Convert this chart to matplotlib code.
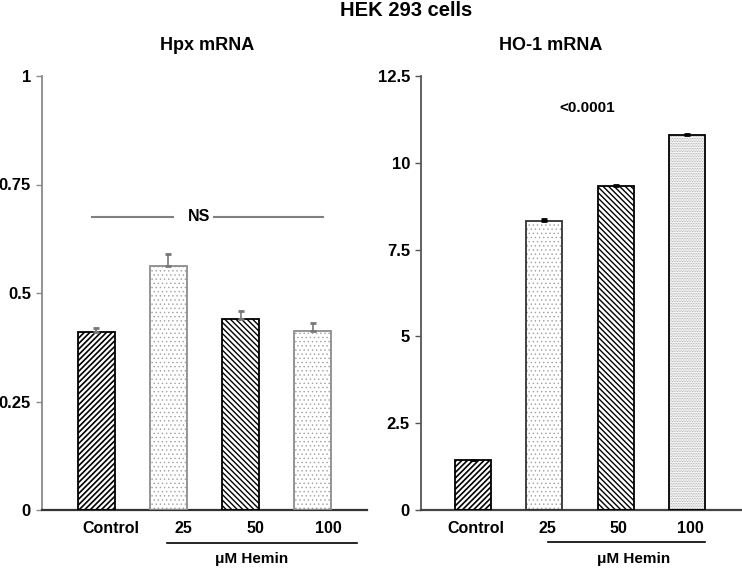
import numpy as np
import matplotlib
matplotlib.use('Agg')
import matplotlib.pyplot as plt
import matplotlib.transforms as mtransforms

plt.rcParams['font.family'] = ['Liberation Sans', 'DejaVu Sans']
plt.rcParams['font.weight'] = 'bold'

# data
groups = ['Control', '25', '50', '100']
hpx_mean = [0.411, 0.562, 0.439, 0.412]
hpx_err = [0.008, 0.027, 0.019, 0.018]
ho1_mean = [1.44, 8.33, 9.33, 10.79]
ho1_err = [0.0, 0.04, 0.04, 0.04]
ns_level = 0.676
pval_text = '<0.0001'

# styles for each bar: hatch, hatch colour, hatch linewidth, edge colour
left_styles = [('//////', 'black', 1.2, 'black'),
               ('....', '#a0a0a0', 0.5, '#8c8c8c'),
               ('\\\\\\\\\\\\', 'black', 1.0, 'black'),
               ('....', '#a0a0a0', 0.5, '#8c8c8c')]
right_styles = [('//////', 'black', 1.2, 'black'),
                ('....', '#a0a0a0', 0.5, '#333333'),
                ('\\\\\\\\\\\\', 'black', 1.0, 'black'),
                ('..........', '#9a9a9a', 0.5, 'black')]

fig = plt.figure(figsize=(7.42, 5.68), dpi=100)
W, H = 742, 568


def px_axes(x0, x1, y0, y1):
    return fig.add_axes([x0 / W, 1 - y1 / H, (x1 - x0) / W, (y1 - y0) / H])


def draw_bars(ax, means, errs, styles, width, errcolor):
    x = np.arange(len(means))
    for i, (h, hc, hlw, ec) in enumerate(styles):
        plt.rcParams['hatch.linewidth'] = hlw
        b = ax.bar(x[i], means[i], width=width, color='white', edgecolor=hc,
                   hatch=h, linewidth=0, zorder=2)
        for p in b:
            if hasattr(p, 'set_hatch_linewidth'):
                p.set_hatch_linewidth(hlw)
        ax.bar(x[i], means[i], width=width, fill=False, edgecolor=ec,
               linewidth=1.3, zorder=3)
    e = np.array(errs)
    ax.errorbar(x, means, yerr=[np.zeros_like(e), e], fmt='none',
                ecolor=errcolor, elinewidth=1.2, capsize=2, capthick=2, zorder=4)
    return x


def style_axes(ax, lcol, bcol):
    for s in ['top', 'right']:
        ax.spines[s].set_visible(False)
    ax.spines['left'].set_color(lcol)
    ax.spines['left'].set_linewidth(1.3)
    ax.spines['bottom'].set_color(bcol)
    ax.spines['bottom'].set_linewidth(1.6)
    ax.tick_params(axis='y', direction='out', length=4, width=1, color=lcol,
                   labelsize=12, pad=4)
    ax.tick_params(axis='x', length=0, labelsize=11.5, pad=8)
    for lab in ax.get_xticklabels() + ax.get_yticklabels():
        lab.set_fontweight('bold')


# left panel
ax1 = px_axes(42, 367, 76, 510)
x1 = draw_bars(ax1, hpx_mean, hpx_err, left_styles, 0.51, '#777777')
ax1.set_xlim(-0.75, 3.75)
ax1.set_ylim(0, 1)
ax1.set_yticks([0, 0.25, 0.5, 0.75, 1])
ax1.set_yticklabels(['0', '0.25', '0.5', '0.75', '1'])
# labels in the left panel sit a little right of the bar centres
ax1.set_xticks(x1 + 0.21)
ax1.set_xticklabels(groups)
style_axes(ax1, '#8a8a8a', '#333333')

ax1.plot([-0.055, 1.065], [ns_level, ns_level], color='#808080', lw=1.5, zorder=1)
ax1.plot([1.63, 3.14], [ns_level, ns_level], color='#808080', lw=1.5, zorder=1)
ax1.text(1.42, ns_level, 'NS', ha='center', va='center', fontsize=11.5,
         fontweight='bold')

tr1 = mtransforms.blended_transform_factory(ax1.transData, ax1.transAxes)
ax1.plot([0.98, 3.61], [-0.076, -0.076], color='black', lw=1.2,
         transform=tr1, clip_on=False)
ax1.text(2.15, -0.112, 'μM Hemin', ha='center', va='center', fontsize=11,
         fontweight='bold', transform=tr1)

# right panel
ax2 = px_axes(421, 742, 76, 510)
x2 = draw_bars(ax2, ho1_mean, ho1_err, right_styles, 0.505, 'black')
ax2.set_xlim(-0.73, 3.77)
ax2.set_ylim(0, 12.5)
ax2.set_yticks([0, 2.5, 5, 7.5, 10, 12.5])
ax2.set_yticklabels(['0', '2.5', '5', '7.5', '10', '12.5'])
ax2.set_xticks(x2 + 0.04)
ax2.set_xticklabels(groups)
style_axes(ax2, '#555555', '#444444')

ax2.text(1.6, 11.58, pval_text, ha='center', va='center', fontsize=11,
         fontweight='bold')

tr2 = mtransforms.blended_transform_factory(ax2.transData, ax2.transAxes)
ax2.plot([1.05, 3.25], [-0.074, -0.074], color='black', lw=1.2,
         transform=tr2, clip_on=False)
ax2.text(2.25, -0.112, 'μM Hemin', ha='center', va='center', fontsize=11,
         fontweight='bold', transform=tr2)

# titles
fig.text(406 / W, 1 - 10 / H, 'HEK 293 cells', ha='center', va='center',
         fontsize=14.5, fontweight='bold')
fig.text(207 / W, 1 - 45 / H, 'Hpx mRNA', ha='center', va='center',
         fontsize=13, fontweight='bold')
fig.text(551 / W, 1 - 45 / H, 'HO-1 mRNA', ha='center', va='center',
         fontsize=13, fontweight='bold')

fig.savefig('out.png', dpi=100)
